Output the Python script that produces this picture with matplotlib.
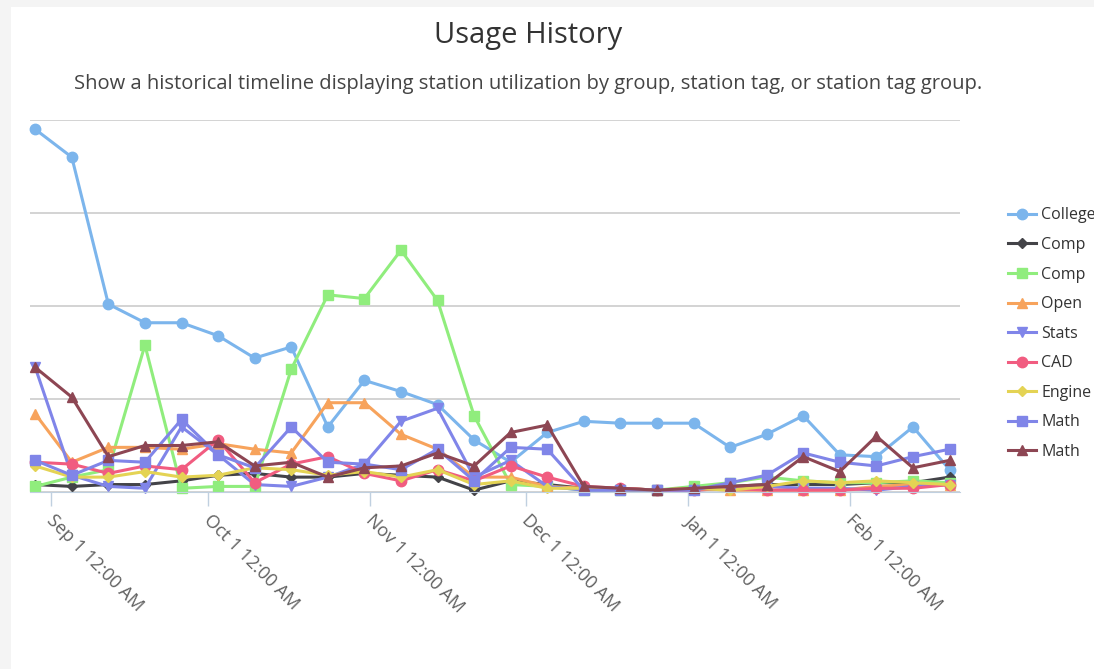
import numpy as np
import pandas as pd
import matplotlib
matplotlib.use('Agg')
import matplotlib.pyplot as plt
import matplotlib.dates as mdates
import matplotlib.transforms as mtransforms

# weekly samples
dates = pd.date_range('2014-08-29', periods=26, freq='7D')

names = ['College', 'Comp', 'Comp', 'Open', 'Stats',
         'CAD', 'Engine', 'Math', 'Math']

college = [195, 180, 101, 91, 91, 84, 72, 78, 35, 60, 54, 47, 28, 16, 32, 38, 37, 37, 37, 24, 31, 41, 20, 19, 35, 12]
comp_sci = [4, 3, 4, 4, 6, 9, 10, 8, 8, 10, 9, 8, 1, 6, 4, 2, 2, 1, 2, 3, 4, 4, 4, 5, 5, 8]
comp_center = [3, 8, 12, 79, 2, 3, 3, 66, 106, 104, 130, 103, 41, 4, 3, 1, 1, 1, 3, 5, 8, 6, 5, 5, 6, 5]
open_lab = [42, 16, 24, 24, 23, 26, 23, 21, 48, 48, 31, 23, 8, 8, 3, 2, 2, 1, 2, 1, 1, 1, 1, 3, 4, 4]
stats = [67, 9, 3, 2, 35, 20, 4, 3, 8, 15, 38, 45, 8, 17, 3, 1, 1, 1, 1, 2, 3, 2, 2, 1, 3, 4]
cad = [16, 15, 10, 14, 12, 28, 5, 15, 19, 10, 6, 12, 6, 14, 8, 3, 2, 1, 1, 2, 1, 1, 1, 2, 2, 4]
engineering = [14, 8, 8, 11, 8, 9, 13, 12, 9, 11, 8, 12, 4, 6, 2, 2, 1, 1, 2, 1, 3, 6, 5, 6, 5, 4]
math_lab = [17, 9, 17, 16, 39, 20, 13, 35, 16, 15, 12, 23, 6, 24, 23, 1, 1, 1, 1, 5, 9, 21, 16, 14, 19, 23]
math_center = [67, 51, 19, 25, 25, 27, 14, 16, 8, 13, 14, 21, 14, 32, 36, 3, 2, 1, 2, 3, 4, 19, 11, 30, 13, 17]

series = [college, comp_sci, comp_center, open_lab, stats, cad, engineering, math_lab, math_center]
colors = ['#7cb5ec', '#434348', '#90ed7d', '#f7a35c', '#8085e9',
          '#f15c80', '#e4d354', '#8085e8', '#8d4653']
markers = ['o', 'D', 's', '^', 'v', 'o', 'D', 's', '^']
msizes = [7.5, 5.5, 7.5, 7.5, 7.5, 7.5, 5.5, 7.5, 7.5]

W, H = 1094, 669
fig = plt.figure(figsize=(W / 100, H / 100), dpi=100)
fig.patch.set_facecolor('#f4f4f4')

# white card behind everything
bg = fig.add_axes([11 / W, 0, 1 - 11 / W, 1 - 7 / H], zorder=-5)
bg.set_facecolor('white')
bg.set_xticks([])
bg.set_yticks([])
for s in bg.spines.values():
    s.set_visible(False)

ax = fig.add_axes([30 / W, 1 - 492 / H, 930 / W, 372 / H])
ax.set_facecolor('none')

for vals, name, c, m, ms in zip(series, names, colors, markers, msizes):
    ax.plot(dates, vals, color=c, marker=m, markersize=ms, linewidth=2.2,
            label=name, clip_on=False)

ax.set_ylim(0, 200)
ax.set_yticks([0, 50, 100, 150, 200])
ax.yaxis.grid(True, color='#cccccc', linewidth=1.2)
ax.set_axisbelow(True)
ax.tick_params(axis='y', length=0, labelleft=False)

x0 = pd.Timestamp('2014-08-28')
x1 = pd.Timestamp('2015-02-22')
ax.set_xlim(x0, x1)
ax.xaxis.set_major_locator(mdates.MonthLocator())
ax.xaxis.set_major_formatter(mdates.DateFormatter('%b %-d 12:00 AM'))
ax.tick_params(axis='x', length=10, color='#c0d0e0', width=1, pad=4,
               labelsize=13, labelcolor='#606060')
shift = mtransforms.ScaledTranslation(5 / 100, 0, fig.dpi_scale_trans)
for lbl in ax.get_xticklabels():
    lbl.set_rotation(-45)
    lbl.set_ha('left')
    lbl.set_va('top')
    lbl.set_rotation_mode('anchor')
    lbl.set_family('Open Sans')
    lbl.set_transform(lbl.get_transform() + shift)

for s in ['top', 'right', 'left']:
    ax.spines[s].set_visible(False)
ax.spines['bottom'].set_color('#c0d0e0')

fig.text(528 / W, 1 - 36 / H, 'Usage History', ha='center', va='center',
         fontsize=21, color='#333333', family='Open Sans')
fig.text(528 / W, 1 - 84 / H,
         'Show a historical timeline displaying station utilization by group, station tag, or station tag group.',
         ha='center', va='center', fontsize=14.5, color='#444444', family='Open Sans')

leg = ax.legend(loc='upper left', bbox_to_anchor=(1002 / W, 1 - 201 / H),
                bbox_transform=fig.transFigure, frameon=False, fontsize=11.5,
                labelspacing=0.85, handlelength=1.7, handletextpad=0.35,
                borderaxespad=0)
for t in leg.get_texts():
    t.set_color('#333333')
    t.set_family('Open Sans')

fig.savefig('out.png', dpi=100, facecolor=fig.get_facecolor())
